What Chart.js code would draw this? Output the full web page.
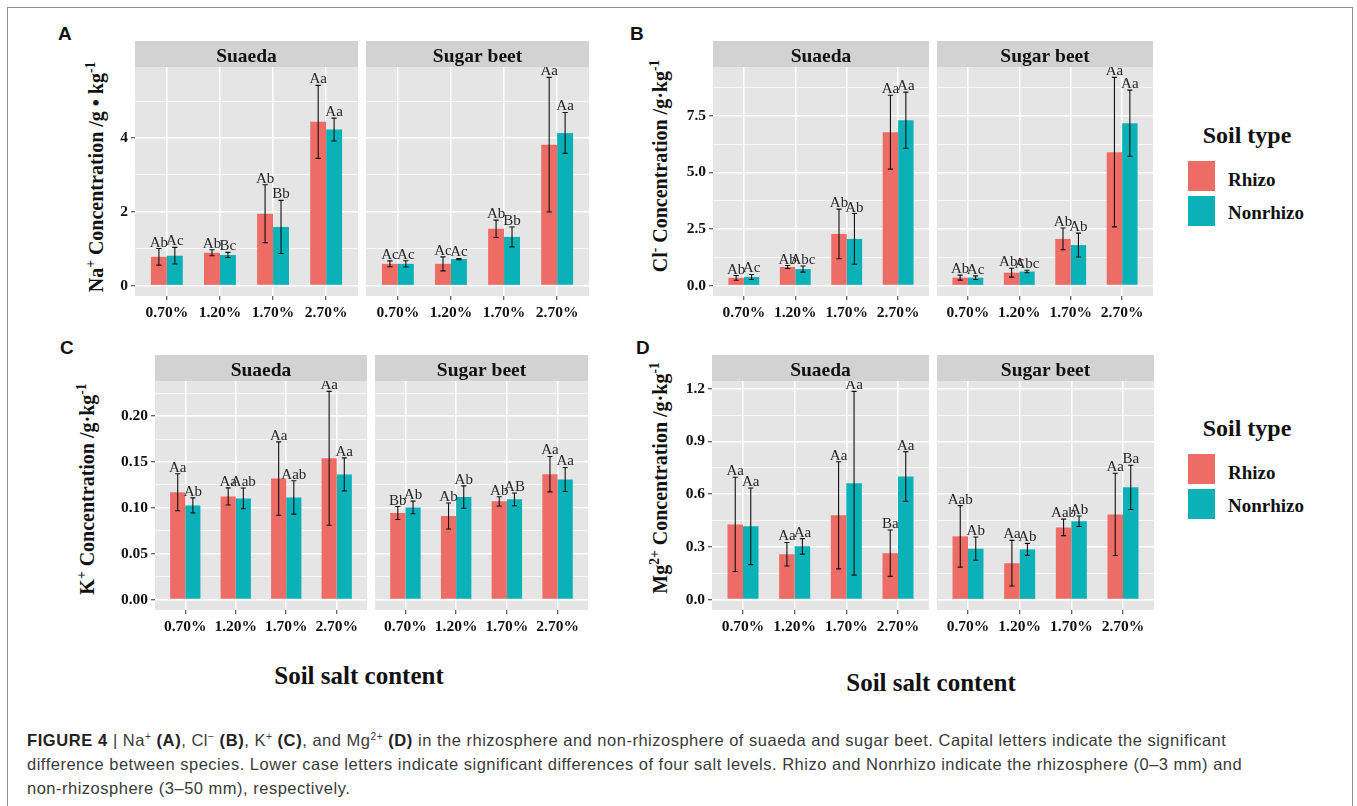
<!DOCTYPE html>
<html>
<head>
<meta charset="utf-8">
<script src="https://cdn.jsdelivr.net/npm/chart.js@4.4.1/dist/chart.umd.min.js"></script>
<style>
  body { margin: 0; width: 1357px; height: 806px; overflow: hidden; position: relative; background: #fff; }
  .frame { position: absolute; left: 7px; top: 7px; width: 1344px; height: 840px; border: 1px solid #8f8f8f; }
  canvas { position: absolute; }
  .tag { position: absolute; font: bold 19px 'Liberation Sans', Arial, sans-serif; color: #111; }
  .ytitle { position: absolute; transform: translate(-50%, -50%) rotate(-90deg); white-space: nowrap;
            font: bold 20px 'Liberation Serif', serif; color: #111; }
  .ytitle sup { font-size: 0.68em; line-height: 0; }
  .center { position: absolute; transform: translate(-50%, -50%); white-space: nowrap; font-family: 'Liberation Serif', serif; font-weight: bold; color: #111; }
  .xtitle { font-size: 25px; }
  .ltitle { font-size: 24px; }
  .swatch { position: absolute; width: 27px; height: 30px; }
  .llabel { position: absolute; transform: translateY(-50%); font-family: 'Liberation Serif', serif; font-weight: bold; font-size: 19px; color: #111; }
  .caption { position: absolute; left: 27px; top: 728px; font: 16.5px/24px 'Liberation Sans', Arial, sans-serif; letter-spacing: 0.5px; color: #3a3a3a; white-space: nowrap; }
  .caption b { color: #222; letter-spacing: 0.6px; }
  .caption sup { font-size: 0.62em; line-height: 0; vertical-align: baseline; position: relative; top: -0.55em; }
</style>
</head>
<body>
<div class="frame"></div>

<div class="tag" style="left:58px; top:23px">A</div>
<div class="tag" style="left:630px; top:23px">B</div>
<div class="tag" style="left:60px; top:337px">C</div>
<div class="tag" style="left:636px; top:337px">D</div>

<div class="ytitle" style="left:96px; top:177px">Na<sup>+</sup> Concentration /g • kg<sup>-1</sup></div>
<div class="ytitle" style="left:660px; top:166px">Cl<sup>-</sup> Concentration /g·kg<sup>-1</sup></div>
<div class="ytitle" style="left:87px; top:489px">K<sup>+</sup> Concentration /g·kg<sup>-1</sup></div>
<div class="ytitle" style="left:660px; top:478px">Mg<sup>2+</sup> Concentration /g·kg<sup>-1</sup></div>

<div class="center xtitle" style="left:359px; top:676px">Soil salt content</div>
<div class="center xtitle" style="left:931px; top:683px">Soil salt content</div>

<div class="caption"><b>FIGURE 4</b> | Na<sup>+</sup> <b>(A)</b>, Cl<sup>−</sup> <b>(B)</b>, K<sup>+</sup> <b>(C)</b>, and Mg<sup>2+</sup> <b>(D)</b> in the rhizosphere and non-rhizosphere of suaeda and sugar beet. Capital letters indicate the significant<br>difference between species. Lower case letters indicate significant differences of four salt levels. Rhizo and Nonrhizo indicate the rhizosphere (0–3 mm) and<br>non-rhizosphere (3–50 mm), respectively.</div>

<script>
const saltLevels = ['0.70%', '1.20%', '1.70%', '2.70%'];
const soilTypes = ['Rhizo', 'Nonrhizo'];
const speciesNames = ['Suaeda', 'Sugar beet'];

// A: Na+
const naSuaedaRhizo = [0.78, 0.89, 1.95, 4.44];
const naSuaedaRhizoSd = [0.225, 0.08, 0.785, 0.99];
const naSuaedaRhizoSig = ['Ab', 'Ab', 'Ab', 'Aa'];
const naSuaedaNon = [0.81, 0.83, 1.59, 4.23];
const naSuaedaNonSd = [0.225, 0.07, 0.72, 0.31];
const naSuaedaNonSig = ['Ac', 'Bc', 'Bb', 'Aa'];
const naBeetRhizo = [0.59, 0.59, 1.54, 3.82];
const naBeetRhizoSd = [0.08, 0.19, 0.235, 1.825];
const naBeetRhizoSig = ['Ac', 'Ac', 'Ab', 'Aa'];
const naBeetNon = [0.59, 0.72, 1.32, 4.14];
const naBeetNonSd = [0.085, 0.015, 0.27, 0.555];
const naBeetNonSig = ['Ac', 'Ac', 'Bb', 'Aa'];

// B: Cl-
const clSuaedaRhizo = [0.34, 0.82, 2.28, 6.77];
const clSuaedaRhizoSd = [0.105, 0.065, 1.095, 1.63];
const clSuaedaRhizoSig = ['Ab', 'Ab', 'Ab', 'Aa'];
const clSuaedaNon = [0.38, 0.73, 2.06, 7.30];
const clSuaedaNonSd = [0.11, 0.135, 1.12, 1.24];
const clSuaedaNonSig = ['Ac', 'Abc', 'Ab', 'Aa'];
const clBeetRhizo = [0.35, 0.57, 2.06, 5.89];
const clBeetRhizoSd = [0.11, 0.195, 0.48, 3.30];
const clBeetRhizoSig = ['Ab', 'Abc', 'Ab', 'Aa'];
const clBeetNon = [0.35, 0.62, 1.79, 7.17];
const clBeetNonSd = [0.08, 0.055, 0.525, 1.46];
const clBeetNonSig = ['Ac', 'Abc', 'Ab', 'Aa'];

// C: K+
const kSuaedaRhizo = [0.117, 0.1125, 0.132, 0.154];
const kSuaedaRhizoSd = [0.0202, 0.0093, 0.040, 0.073];
const kSuaedaRhizoSig = ['Aa', 'Aa', 'Aa', 'Aa'];
const kSuaedaNon = [0.1027, 0.1103, 0.1114, 0.1365];
const kSuaedaNonSd = [0.0082, 0.0113, 0.0182, 0.018];
const kSuaedaNonSig = ['Ab', 'Aab', 'Aab', 'Aa'];
const kBeetRhizo = [0.0944, 0.0911, 0.1071, 0.1368];
const kBeetRhizoSd = [0.0071, 0.0142, 0.0051, 0.0193];
const kBeetRhizoSig = ['Bb', 'Ab', 'Ab', 'Aa'];
const kBeetNon = [0.1005, 0.1118, 0.1093, 0.131];
const kBeetNonSd = [0.0069, 0.0122, 0.0069, 0.0131];
const kBeetNonSig = ['Ab', 'Ab', 'AB', 'Aa'];

// D: Mg2+
const mgSuaedaRhizo = [0.428, 0.258, 0.48, 0.264];
const mgSuaedaRhizoSd = [0.268, 0.067, 0.305, 0.132];
const mgSuaedaRhizoSig = ['Aa', 'Aa', 'Aa', 'Ba'];
const mgSuaedaNon = [0.417, 0.303, 0.662, 0.701];
const mgSuaedaNonSd = [0.218, 0.044, 0.523, 0.141];
const mgSuaedaNonSig = ['Aa', 'Aa', 'Aa', 'Aa'];
const mgBeetRhizo = [0.36, 0.207, 0.411, 0.485];
const mgBeetRhizoSd = [0.175, 0.13, 0.047, 0.234];
const mgBeetRhizoSig = ['Aab', 'Aa', 'Aab', 'Aa'];
const mgBeetNon = [0.29, 0.286, 0.446, 0.639];
const mgBeetNonSd = [0.066, 0.034, 0.03, 0.126];
const mgBeetNonSig = ['Ab', 'Ab', 'Ab', 'Ba'];

const RHIZO = '#EE6C66';
const NONRHIZO = '#0AB2B8';
const STRIP = 26;
const AXIS_W = 70;
const AXIS_H = 30;
const TICK_FONT = { family: 'Liberation Serif', weight: 'bold', size: 15.5 };

// panel layout: plot box [left, top, width, height] for each facet
const panels = [
  { step: 2, digits: 0, facets: [
    { box: [135, 67, 223, 229], rhizo: [naSuaedaRhizo, naSuaedaRhizoSd, naSuaedaRhizoSig], non: [naSuaedaNon, naSuaedaNonSd, naSuaedaNonSig] },
    { box: [366, 67, 223, 229], rhizo: [naBeetRhizo, naBeetRhizoSd, naBeetRhizoSig], non: [naBeetNon, naBeetNonSd, naBeetNonSig] } ] },
  { step: 2.5, digits: 1, facets: [
    { box: [713, 67, 216, 229], rhizo: [clSuaedaRhizo, clSuaedaRhizoSd, clSuaedaRhizoSig], non: [clSuaedaNon, clSuaedaNonSd, clSuaedaNonSig] },
    { box: [937, 67, 216, 229], rhizo: [clBeetRhizo, clBeetRhizoSd, clBeetRhizoSig], non: [clBeetNon, clBeetNonSd, clBeetNonSig] } ] },
  { step: 0.05, digits: 2, facets: [
    { box: [155, 381, 212, 229], rhizo: [kSuaedaRhizo, kSuaedaRhizoSd, kSuaedaRhizoSig], non: [kSuaedaNon, kSuaedaNonSd, kSuaedaNonSig] },
    { box: [375, 381, 213, 229], rhizo: [kBeetRhizo, kBeetRhizoSd, kBeetRhizoSig], non: [kBeetNon, kBeetNonSd, kBeetNonSig] } ] },
  { step: 0.3, digits: 1, facets: [
    { box: [712, 381, 217, 229], rhizo: [mgSuaedaRhizo, mgSuaedaRhizoSd, mgSuaedaRhizoSig], non: [mgSuaedaNon, mgSuaedaNonSd, mgSuaedaNonSig] },
    { box: [937, 381, 217, 229], rhizo: [mgBeetRhizo, mgBeetRhizoSd, mgBeetRhizoSig], non: [mgBeetNon, mgBeetNonSd, mgBeetNonSig] } ] }
];

const panelBg = {
  id: 'panelBg',
  beforeDraw(chart, args, opts) {
    const { ctx, chartArea: a } = chart;
    ctx.save();
    ctx.fillStyle = '#E5E5E5';
    ctx.fillRect(a.left, a.top, a.width, a.height);
    ctx.fillStyle = '#D2D2D2';
    ctx.fillRect(a.left, a.top - STRIP, a.width, STRIP);
    ctx.fillStyle = '#111';
    ctx.font = 'bold 19.5px "Liberation Serif", serif';
    ctx.textAlign = 'center';
    ctx.textBaseline = 'middle';
    ctx.fillText(opts.title, (a.left + a.right) / 2, a.top - STRIP / 2 + 3);
    ctx.restore();
  }
};

const errorBars = {
  id: 'errorBars',
  afterDatasetsDraw(chart) {
    const { ctx, chartArea: a } = chart;
    const y = chart.scales.y;
    ctx.save();
    ctx.beginPath();
    ctx.rect(a.left, a.top, a.width, a.height);
    ctx.clip();
    chart.data.datasets.forEach((ds, d) => {
      chart.getDatasetMeta(d).data.forEach((bar, i) => {
        const v = ds.data[i].y, sd = ds.sd[i];
        const top = y.getPixelForValue(v + sd);
        const bot = y.getPixelForValue(v - sd);
        const half = bar.width / 6;
        ctx.strokeStyle = '#111';
        ctx.lineWidth = 1.1;
        ctx.beginPath();
        ctx.moveTo(bar.x, top); ctx.lineTo(bar.x, bot);
        ctx.moveTo(bar.x - half, top); ctx.lineTo(bar.x + half, top);
        ctx.moveTo(bar.x - half, bot); ctx.lineTo(bar.x + half, bot);
        ctx.stroke();
        ctx.fillStyle = '#262626';
        ctx.font = '15px "Liberation Serif", serif';
        ctx.textAlign = 'center';
        ctx.textBaseline = 'alphabetic';
        ctx.fillText(ds.sig[i], bar.x, top - 2);
      });
    });
    ctx.restore();
  }
};

function makeFacet(panel, facet, idx, yMin, yMax) {
  const showY = idx === 0;
  const [x, y, w, h] = facet.box;
  const axisW = showY ? AXIS_W : 0;
  const canvas = document.createElement('canvas');
  canvas.width = axisW + w + 2;
  canvas.height = STRIP + h + AXIS_H;
  canvas.style.left = (x - axisW) + 'px';
  canvas.style.top = (y - STRIP) + 'px';
  document.body.appendChild(canvas);

  const minor = panel.step / 2;
  const isMajor = v => Math.abs(v / panel.step - Math.round(v / panel.step)) < 1e-6;
  const toPoints = arr => arr.map((v, i) => ({ x: i + 1, y: v }));

  new Chart(canvas, {
    type: 'bar',
    data: {
      datasets: [
        { label: soilTypes[0], data: toPoints(facet.rhizo[0]), sd: facet.rhizo[1], sig: facet.rhizo[2], backgroundColor: RHIZO },
        { label: soilTypes[1], data: toPoints(facet.non[0]), sd: facet.non[1], sig: facet.non[2], backgroundColor: NONRHIZO }
      ]
    },
    options: {
      responsive: false,
      animation: false,
      layout: { padding: { top: STRIP, right: 2, left: 0, bottom: 0 } },
      datasets: { bar: { categoryPercentage: 0.6, barPercentage: 1, borderWidth: 0 } },
      plugins: {
        legend: { display: false },
        tooltip: { enabled: false },
        panelBg: { title: speciesNames[idx] }
      },
      scales: {
        x: {
          type: 'linear', min: 0.4, max: 4.6, offset: false,
          grid: { offset: false, color: '#fff', lineWidth: 1.5, tickColor: '#333', tickLength: 4, tickWidth: 1 },
          border: { display: false },
          ticks: {
            stepSize: 1, includeBounds: false, autoSkip: false, maxRotation: 0, padding: 4,
            color: '#111', font: TICK_FONT,
            callback: v => saltLevels[Math.round(v) - 1] || ''
          },
          afterFit: s => { s.height = AXIS_H; }
        },
        y: {
          min: yMin, max: yMax,
          grid: {
            color: '#fff',
            lineWidth: c => (c.tick && isMajor(c.tick.value)) ? 1.5 : 0.7,
            drawTicks: showY,
            tickColor: c => (c.tick && isMajor(c.tick.value)) ? '#333' : 'rgba(0,0,0,0)',
            tickLength: 4, tickWidth: 1
          },
          border: { display: false },
          ticks: {
            display: showY, stepSize: minor, includeBounds: false, padding: 3,
            color: '#111', font: TICK_FONT,
            callback: v => isMajor(v) ? Number(v).toFixed(panel.digits) : ''
          },
          afterFit: s => { s.width = axisW; }
        }
      }
    },
    plugins: [panelBg, errorBars]
  });
}

panels.forEach(panel => {
  // ggplot-style range: 0 .. highest error bar, expanded 5% each side
  let top = 0;
  panel.facets.forEach(f => {
    [f.rhizo, f.non].forEach(s => s[0].forEach((v, i) => { top = Math.max(top, v + s[1][i]); }));
  });
  const yMin = -0.05 * top, yMax = top * 1.05;
  panel.facets.forEach((f, i) => makeFacet(panel, f, i, yMin, yMax));
});

// legends
function addLegend(cy) {
  const t = document.createElement('div');
  t.className = 'center ltitle';
  t.style.left = '1247px';
  t.style.top = cy + 'px';
  t.textContent = 'Soil type';
  document.body.appendChild(t);
  [RHIZO, NONRHIZO].forEach((col, i) => {
    const sw = document.createElement('div');
    sw.className = 'swatch';
    sw.style.left = '1188px';
    sw.style.top = (cy + 26 + i * 34.5) + 'px';
    sw.style.background = col;
    document.body.appendChild(sw);
    const lb = document.createElement('div');
    lb.className = 'llabel';
    lb.style.left = '1228px';
    lb.style.top = (cy + 45 + i * 33) + 'px';
    lb.textContent = soilTypes[i];
    document.body.appendChild(lb);
  });
}
addLegend(135);
addLegend(428);
</script>
</body>
</html>
